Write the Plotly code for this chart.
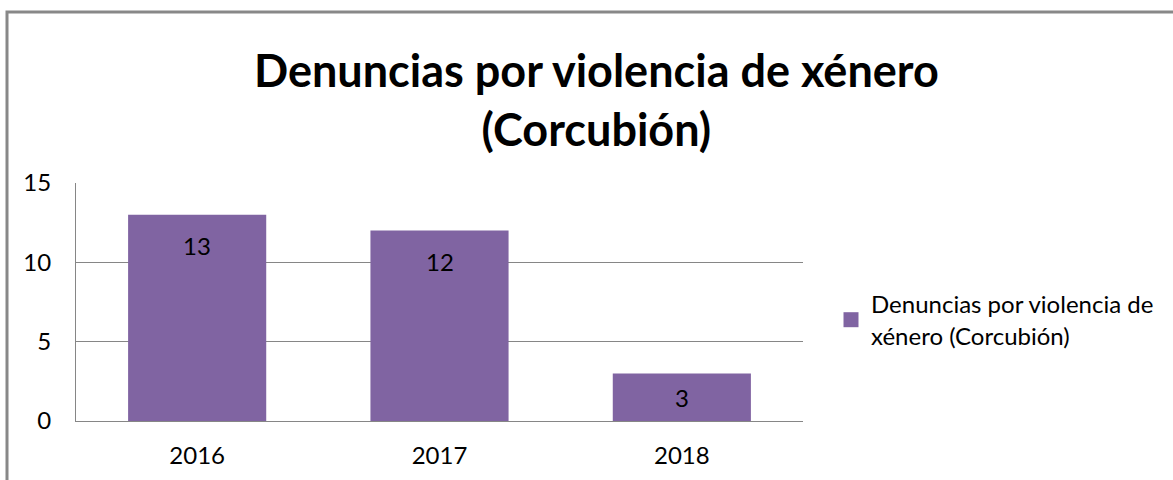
import plotly.graph_objects as go

categories = ["2016", "2017", "2018"]
values = [13, 12, 3]
series_name = "Denuncias por violencia de<br>xénero (Corcubión)"
title_text = "<b>Denuncias por violencia de xénero<br>(Corcubión)</b>"
y_ticks = [0, 5, 10, 15]

W, H = 1173, 480
L, R, T, B = 76, 370, 183, 59
pw = W - L - R
ph = H - T - B
YMAX = 15

def px_x(x):
    return (x - L) / pw

def px_y(y):
    return (H - B - y) / ph

FONT = "Lato"
bar_color = "#8064A2"
grid_color = "#868686"

fig = go.Figure()
fig.add_trace(go.Bar(
    x=categories, y=values, name=series_name,
    marker=dict(color=bar_color, line=dict(width=0)),
    showlegend=False,
))
# legend entry (square swatch)
fig.add_trace(go.Scatter(
    x=[None], y=[None], mode="markers", name=series_name,
    marker=dict(symbol="square", size=15, color=bar_color),
    showlegend=True,
))

for i, v in enumerate(values):
    bar_px = v * ph / YMAX
    fig.add_annotation(x=i, y=v, xref="x", yref="y", text=str(v),
                       showarrow=False, yshift=-min(31, bar_px / 2),
                       font=dict(family=FONT, size=24, color="#000000"))

fig.add_annotation(x=px_x(596), y=px_y(100), xref="paper", yref="paper",
                   text=title_text, showarrow=False,
                   xanchor="center", yanchor="middle",
                   font=dict(family=FONT, size=45, color="#000000"))

fig.add_shape(type="rect", xref="paper", yref="paper",
              x0=px_x(7), x1=px_x(1190), y0=px_y(495), y1=px_y(12),
              line=dict(color="#888888", width=3), layer="below")

fig.update_layout(
    width=W, height=H,
    margin=dict(l=L, r=R, t=T, b=B, pad=0, autoexpand=False),
    paper_bgcolor="white", plot_bgcolor="white",
    bargap=0.43,
    font=dict(family=FONT, size=24, color="#000000"),
    legend=dict(x=px_x(831), y=px_y(282), xanchor="left", yanchor="top",
                font=dict(family=FONT, size=24, color="#000000"),
                bgcolor="rgba(0,0,0,0)", itemwidth=30, tracegroupgap=0),
    xaxis=dict(type="category", range=[-0.5, len(categories) - 0.5],
               showgrid=False, showline=True, linecolor=grid_color,
               linewidth=1, ticks="", tickfont=dict(family=FONT, size=24),
               zeroline=False, ticklabelstandoff=13),
    yaxis=dict(range=[0, YMAX], tickvals=y_ticks, showgrid=True, gridcolor=grid_color,
               gridwidth=1, showline=True, linecolor=grid_color, linewidth=1,
               ticks="", tickfont=dict(family=FONT, size=24), zeroline=False,
               ticklabelstandoff=19),
)

fig.write_html("out.html", config={"displayModeBar": False},
               post_script="document.body.style.margin='0';")
